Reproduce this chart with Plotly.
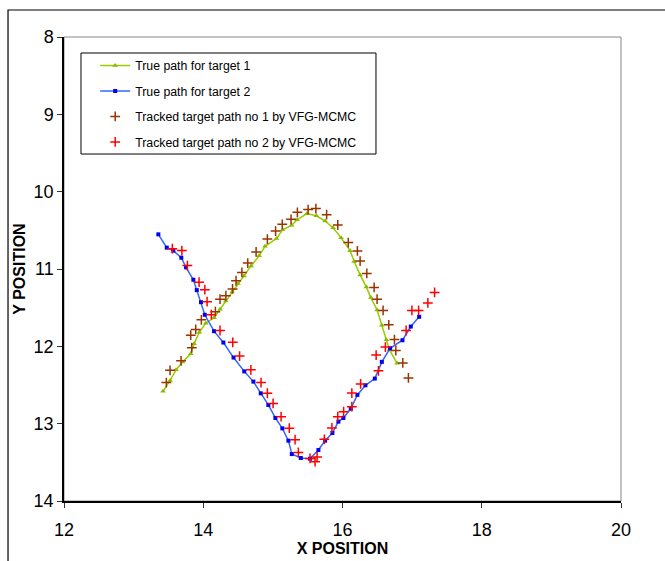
import plotly.graph_objects as go

# ---- data ----
true1_x = [13.422, 13.523, 13.609, 13.705, 13.820, 13.868, 13.944, 14.036, 14.155, 14.241,
           14.323, 14.414, 14.500, 14.586, 14.687, 14.802, 14.888, 15.053, 15.139, 15.269,
           15.348, 15.487, 15.625, 15.750, 15.865, 15.980, 16.109, 16.167, 16.253, 16.343,
           16.407, 16.497, 16.565, 16.631, 16.674, 16.784]
true1_y = [12.582, 12.443, 12.304, 12.201, 12.097, 11.968, 11.817, 11.701, 11.631, 11.520,
           11.413, 11.299, 11.187, 11.089, 10.960, 10.830, 10.707, 10.604, 10.494, 10.435,
           10.364, 10.284, 10.312, 10.380, 10.468, 10.597, 10.763, 10.902, 11.076, 11.234,
           11.370, 11.530, 11.727, 11.916, 12.044, 12.219]

true2_x = [13.355, 13.476, 13.570, 13.685, 13.753, 13.858, 13.907, 13.968, 14.022, 14.155,
           14.289, 14.435, 14.589, 14.720, 14.826, 14.935, 15.036, 15.136, 15.223, 15.272,
           15.401, 15.534, 15.654, 15.750, 15.855, 15.941, 16.013, 16.119, 16.214, 16.329,
           16.464, 16.565, 16.684, 16.861, 16.981, 17.101]
true2_y = [10.552, 10.724, 10.763, 10.854, 10.979, 11.139, 11.273, 11.429, 11.592, 11.804,
           11.951, 12.145, 12.324, 12.456, 12.608, 12.758, 12.926, 13.061, 13.220, 13.393,
           13.444, 13.453, 13.341, 13.220, 13.120, 12.974, 12.926, 12.806, 12.628, 12.504,
           12.417, 12.201, 12.025, 11.921, 11.744, 11.618]

track1_x = [13.470, 13.523, 13.681, 13.835, 13.820, 13.892, 13.973, 14.174, 14.241, 14.325,
            14.421, 14.471, 14.555, 14.639, 14.759, 14.921, 15.039, 15.135, 15.261, 15.352,
            15.506, 15.618, 15.772, 15.932, 16.083, 16.214, 16.253, 16.349, 16.454, 16.497,
            16.583, 16.665, 16.746, 16.766, 16.866, 16.947]
track1_y = [12.469, 12.310, 12.188, 12.018, 11.856, 11.782, 11.657, 11.552, 11.390, 11.346,
            11.258, 11.152, 11.044, 10.924, 10.779, 10.613, 10.509, 10.422, 10.358, 10.267,
            10.232, 10.219, 10.297, 10.431, 10.658, 10.766, 10.898, 11.057, 11.238, 11.390,
            11.536, 11.722, 11.912, 12.054, 12.214, 12.408]

track2_x = [13.556, 13.693, 13.772, 13.940, 14.023, 14.055, 14.116, 14.241, 14.424, 14.522,
            14.684, 14.830, 14.921, 15.003, 15.118, 15.236, 15.319, 15.366, 15.534, 15.606,
            15.635, 15.739, 15.848, 15.932, 16.016, 16.134, 16.134, 16.260, 16.516, 16.483,
            16.616, 16.914, 16.997, 17.093, 17.226, 17.323]
track2_y = [10.737, 10.762, 10.956, 11.170, 11.267, 11.422, 11.591, 11.795, 11.948, 12.126,
            12.304, 12.469, 12.607, 12.738, 12.909, 13.058, 13.207, 13.372, 13.450, 13.492,
            13.431, 13.203, 13.056, 12.909, 12.845, 12.780, 12.605, 12.486, 12.317, 12.113,
            12.009, 11.795, 11.536, 11.536, 11.439, 11.303]

names = ["True path for target 1", "True path for target 2",
         "Tracked target path no 1 by VFG-MCMC", "Tracked target path no 2 by VFG-MCMC"]

x_ticks = [12, 14, 16, 18, 20]
y_ticks = [8, 9, 10, 11, 12, 13, 14]

FONT = "Liberation Sans, Arial, sans-serif"

fig = go.Figure()
fig.add_trace(go.Scatter(x=true1_x, y=true1_y, mode="lines+markers", name=names[0],
                         legendgroup="a",
                         line=dict(color="#99CC00", width=1.5),
                         marker=dict(symbol="triangle-up", size=5, color="#88BB00")))
fig.add_trace(go.Scatter(x=true2_x, y=true2_y, mode="lines+markers", name=names[1],
                         legendgroup="b",
                         line=dict(color="#3366FF", width=1.5),
                         marker=dict(symbol="square", size=4, color="#0000EE")))
fig.add_trace(go.Scatter(x=track1_x, y=track1_y, mode="markers", name=names[2],
                         legendgroup="c",
                         marker=dict(symbol="cross-thin", size=7, color="#993300",
                                     line=dict(color="#993300", width=1.5))))
fig.add_trace(go.Scatter(x=track2_x, y=track2_y, mode="markers", name=names[3],
                         legendgroup="d",
                         marker=dict(symbol="cross-thin", size=7, color="#FF0000",
                                     line=dict(color="#FF0000", width=1.5))))

fig.update_layout(
    width=665, height=561,
    margin=dict(l=64, r=44, t=37, b=60),
    paper_bgcolor="white", plot_bgcolor="white",
    font=dict(family=FONT, color="black", size=18),
    showlegend=True,
    legend=dict(x=0.056, y=0.970, xanchor="left", yanchor="top",
                bgcolor="rgba(0,0,0,0)", borderwidth=0,
                font=dict(family=FONT, size=12.3, color="black"),
                tracegroupgap=6.5, traceorder="grouped"),
    xaxis=dict(range=[12, 20], tickvals=x_ticks, ticks="outside", ticklen=5,
               tickcolor="#333333", showline=True, linecolor="black", linewidth=1.5,
               showgrid=False, zeroline=False, ticklabelstandoff=7, automargin=False,
               tickfont=dict(family=FONT, size=18, color="black"),
               title=dict(text="<b>X POSITION</b>", standoff=3,
                          font=dict(family=FONT, size=16, color="black"))),
    yaxis=dict(range=[14, 8], tickvals=y_ticks, ticks="outside", ticklen=5,
               tickcolor="#333333", showline=True, linecolor="black", linewidth=1.5,
               showgrid=False, zeroline=False, automargin=False,
               tickfont=dict(family=FONT, size=18, color="black"),
               title=dict(text="<b>Y POSITION</b>", standoff=4,
                          font=dict(family=FONT, size=16, color="black"))),
    shapes=[
        # plot area border (gray)
        dict(type="rect", xref="paper", yref="paper", x0=0, y0=0, x1=1, y1=1,
             line=dict(color="#888888", width=1), layer="below"),
        # outer chart frame
        dict(type="rect", xref="paper", yref="paper", x0=-0.1005, y0=-0.3, x1=1.3, y1=1.0582,
             line=dict(color="black", width=1.2), layer="below"),
        # legend box
        dict(type="rect", xref="paper", yref="paper", x0=0.0305, y0=0.7478, x1=0.5601, y1=0.9655,
             line=dict(color="black", width=1), layer="below"),
    ],
)

fig.write_html("out.html", config={"displayModeBar": False},
               post_script="document.body.style.margin='0';document.body.style.overflow='hidden';")
